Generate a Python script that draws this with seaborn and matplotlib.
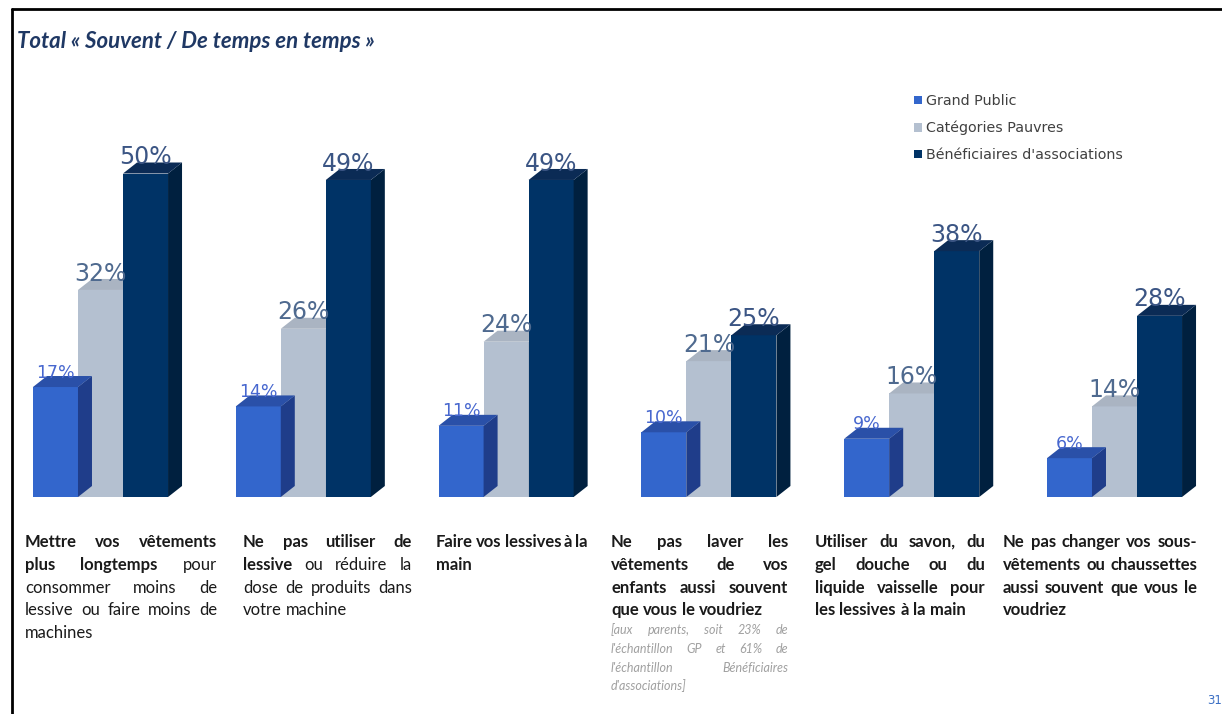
import matplotlib
matplotlib.use("Agg")
import matplotlib.pyplot as plt
import seaborn as sns
import pandas as pd
from matplotlib.patches import Polygon
from matplotlib.lines import Line2D

# ---------------- data ----------------
categories = ["Mettre", "Ne pas utiliser", "Faire", "Ne pas laver", "Utiliser", "Ne pas changer"]
series = ["Grand Public", "Catégories Pauvres", "Bénéficiaires d'associations"]
grand_public = [17, 14, 11, 10, 9, 6]
categories_pauvres = [32, 26, 24, 21, 16, 14]
beneficiaires = [50, 49, 49, 25, 38, 28]

category_labels = [
    "**Mettre vos vêtements**\n**plus longtemps** pour\nconsommer moins de\nlessive ou faire moins de\nmachines",
    "**Ne pas utiliser de**\n**lessive** ou réduire la\ndose de produits dans\nvotre machine",
    "**Faire vos lessives à la**\n**main**",
    "**Ne pas laver les**\n**vêtements de vos**\n**enfants aussi souvent**\n**que vous le voudriez**",
    "**Utiliser du savon, du**\n**gel douche ou du**\n**liquide vaisselle pour**\n**les lessives à la main**",
    "**Ne pas changer vos sous-**\n**vêtements ou chaussettes**\n**aussi souvent que vous le**\n**voudriez**",
]
note_index = 3
note_label = "[aux parents, soit 23% de\nl'échantillon GP et 61% de\nl'échantillon Bénéficiaires\nd'associations]"
title = "Total « Souvent / De temps en temps »"
page_number = "31"

# ---------------- style ----------------
W, H = 1222, 714
front_colors = ["#3366cc", "#b4c0d0", "#003366"]
side_colors = ["#1f3d8a", "#9aa6b6", "#00203f"]
top_colors = ["#2a50a8", "#aab4c2", "#0b2b55"]
label_colors = ["#4767cf", "#4f6a8f", "#3b5584"]
label_sizes = [12.5, 17, 17]
zorders = [4, 2, 4]

sns.set_theme(style="white")
plt.rcParams["font.family"] = ["DejaVu Sans"]

fig = plt.figure(figsize=(W / 100, H / 100), dpi=100)
fig.patch.set_facecolor("white")

group_px = 202.8
center0_px = 100.5
baseline_px = 497
px_per_pct = 6.47
ymax = 55
left = (center0_px - 0.5 * group_px) / W
ax = fig.add_axes([left, (H - baseline_px) / H, 6 * group_px / W, ymax * px_per_pct / H])
ax.set_facecolor("none")

df = pd.DataFrame({
    "cat": categories * 3,
    "series": [series[0]] * 6 + [series[1]] * 6 + [series[2]] * 6,
    "val": grand_public + categories_pauvres + beneficiaires,
})
sns.barplot(data=df, x="cat", y="val", hue="series", hue_order=series, order=categories,
            palette=front_colors, saturation=1, width=0.666, gap=0, edgecolor="none",
            linewidth=0, ax=ax, errorbar=None)

leg = ax.get_legend()
handles = list(leg.legend_handles)
labels = [t.get_text() for t in leg.get_texts()]
leg.remove()

ax.set_xlim(-0.5, 5.5)
ax.set_ylim(0, ymax)
ax.set_xlabel("")
ax.set_ylabel("")
ax.set_xticks([])
ax.set_yticks([])
for s in ax.spines.values():
    s.set_visible(False)

dx = 14 / group_px
dy = 11 / px_per_pct
for i, cont in enumerate(ax.containers):
    for p in cont.patches:
        p.set_zorder(zorders[i])
        x0, w, h = p.get_x(), p.get_width(), p.get_height()
        side = Polygon([(x0 + w, 0), (x0 + w + dx, dy), (x0 + w + dx, h + dy), (x0 + w, h)],
                       closed=True, facecolor=side_colors[i], edgecolor="none",
                       zorder=zorders[i], clip_on=False)
        top = Polygon([(x0, h), (x0 + dx, h + dy), (x0 + w + dx, h + dy), (x0 + w, h)],
                      closed=True, facecolor=top_colors[i], edgecolor="none",
                      zorder=zorders[i], clip_on=False)
        ax.add_patch(side)
        ax.add_patch(top)
        ax.text(x0 + w / 2, h + dy * 0.85, f"{h:.0f}%", ha="center", va="baseline",
                fontsize=label_sizes[i], color=label_colors[i], zorder=6, clip_on=False)

# legend
fig.legend(handles, labels, loc="upper left", bbox_to_anchor=(914 / W, 1 - 94 / H),
           bbox_transform=fig.transFigure, frameon=False, fontsize=10.3,
           handlelength=0.55, handleheight=0.55, handletextpad=0.3,
           labelspacing=0.9, borderpad=0, borderaxespad=0, labelcolor="#404040")

# title
fig.text(17 / W, 1 - 41 / H, title, fontsize=16, fontweight="bold", fontstyle="italic",
         color="#1f3864", va="center", ha="left", family=["Lato", "DejaVu Sans"])

# page number
fig.text(1207 / W, 1 - 700 / H, page_number, fontsize=8.5, color="#3b6fc4", va="center", ha="left")

# frame lines
fig.add_artist(Line2D([12 / W, 1], [1 - 9 / H, 1 - 9 / H], transform=fig.transFigure,
                      color="black", lw=2.0))
fig.add_artist(Line2D([12 / W, 12 / W], [0, 1 - 9 / H], transform=fig.transFigure,
                      color="black", lw=2.0))

# ---------------- justified category labels ----------------
blocks = [(25, 192), (243, 169), (436, 152), (611, 177), (815, 170), (1003, 194)]
line_y0 = 547
line_step = 22.8
cat_font = ["Lato", "DejaVu Sans"]
cat_size = 12


def tokenize(line):
    segs = line.split("**")
    words = []
    for k, seg in enumerate(segs):
        bold = (k % 2 == 1)
        for wtok in seg.split():
            words.append((wtok, bold))
    return words


renderer = fig.canvas.get_renderer()


def space_width(size, weight, style, family):
    t1 = fig.text(0, 0, "a a", fontsize=size, fontweight=weight, fontstyle=style, family=family)
    t2 = fig.text(0, 0, "aa", fontsize=size, fontweight=weight, fontstyle=style, family=family)
    wdt = t1.get_window_extent(renderer).width - t2.get_window_extent(renderer).width
    t1.remove()
    t2.remove()
    return wdt


def place_paragraph(text, xl, width, y0, step, size, color, style, family):
    lines = text.split("\n")
    for li, line in enumerate(lines):
        words = tokenize(line)
        y = 1 - (y0 + li * step) / H
        arts = []
        for wtok, bold in words:
            t = fig.text(0, y, wtok, fontsize=size, fontweight="bold" if bold else "normal",
                         fontstyle=style, color=color, family=family, va="baseline", ha="left")
            arts.append(t)
        widths = [a.get_window_extent(renderer).width for a in arts]
        last = li == len(lines) - 1
        if not last and len(arts) > 1:
            gap = (width - sum(widths)) / (len(arts) - 1)
        else:
            gap = space_width(size, "normal", style, family)
        x = xl
        for a, wd in zip(arts, widths):
            a.set_x(x / W)
            x += wd + gap


for k, lab in enumerate(category_labels):
    xl, wd = blocks[k]
    place_paragraph(lab, xl, wd, line_y0, line_step, cat_size, "#1a1a1a", "normal", cat_font)
    if k == note_index:
        nl = len(lab.split("\n"))
        place_paragraph(note_label, xl, wd, line_y0 + nl * line_step - 4, 18.7, 9,
                        "#a0a0a0", "italic", cat_font)

fig.savefig("out.png", dpi=100, facecolor="white")
